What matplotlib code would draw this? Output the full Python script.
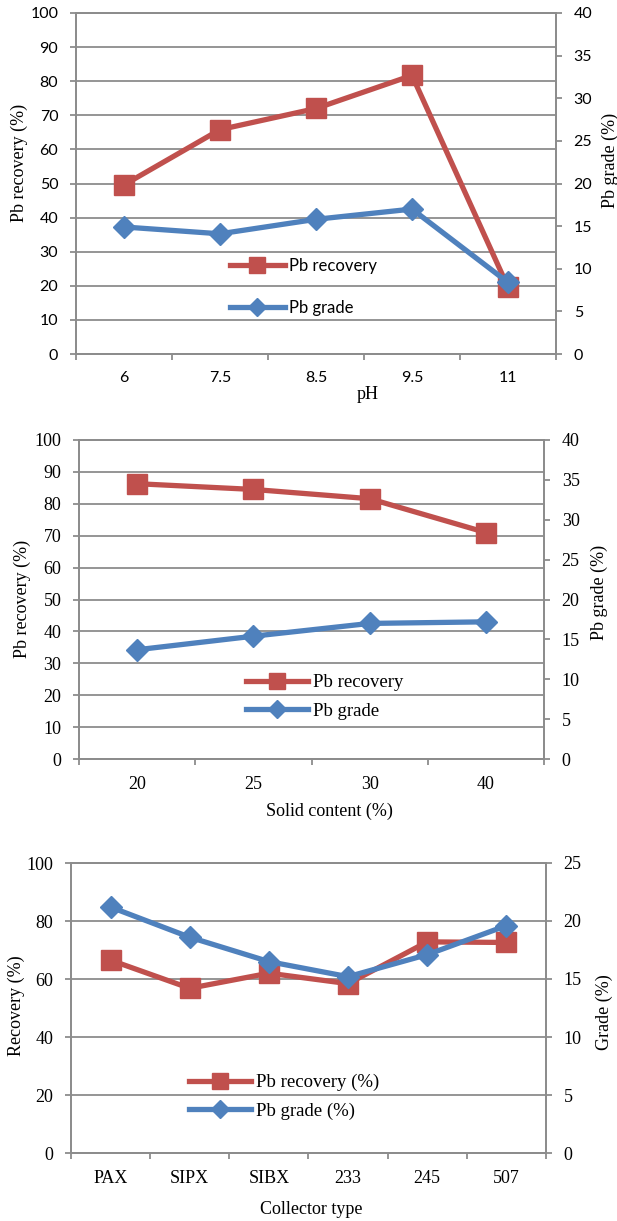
import numpy as np
import matplotlib
matplotlib.use("Agg")
import matplotlib.pyplot as plt

RED = "#C0504D"
BLUE = "#4F81BD"
GREY = "#8C8C8C"
SERIF = ["Liberation Serif", "DejaVu Serif"]
SANS = ["Lato", "DejaVu Sans"]

W, H = 617, 1221

# flotation results vs pH
ph_levels = ["6", "7.5", "8.5", "9.5", "11"]
ph_recovery = [49.6, 65.8, 72.0, 81.7, 19.6]
ph_grade = [14.9, 14.1, 15.8, 17.0, 8.4]

# flotation results vs solid content
solid_levels = ["20", "25", "30", "40"]
solid_recovery = [86.3, 84.5, 81.6, 71.0]
solid_grade = [13.7, 15.4, 17.0, 17.2]

# flotation results vs collector
collectors = ["PAX", "SIPX", "SIBX", "233", "245", "507"]
collector_recovery = [66.5, 56.8, 62.0, 58.4, 72.8, 72.6]
collector_grade = [21.2, 18.6, 16.5, 15.2, 17.1, 19.6]


def panel(fig, box, cats, rec, grade, rec_step, grade_max, grade_step,
          labels, names, tick_font, tick_size, lab_pos, leg_pos, leg_font,
          leg_size, leg_space):
    l, t, r, b = box
    ax = fig.add_axes([l / W, 1 - b / H, (r - l) / W, (b - t) / H])
    n = len(cats)
    x = np.arange(n)

    ax.plot(x, rec, color=RED, lw=3.8, marker="s", ms=14.5, zorder=3,
            label=names[0])
    ax.set_xlim(-0.5, n - 0.5)
    ax.set_ylim(0, 100)
    ax.set_yticks(np.arange(0, 101, rec_step))
    ax.grid(axis="y", color=GREY, lw=1.3)
    ax.set_axisbelow(True)

    ax2 = ax.twinx()
    ax2.plot(x, grade, color=BLUE, lw=3.8, marker="D", ms=11.5, zorder=3,
             label=names[1])
    ax2.set_ylim(0, grade_max)
    ax2.set_yticks(np.arange(0, grade_max + 0.1, grade_step))

    ax.set_xticks(x)
    ax.set_xticklabels(cats)
    ax.set_xticks(np.arange(n + 1) - 0.5, minor=True)
    ax.tick_params(axis="x", which="major", length=0, pad=12)
    ax.tick_params(axis="x", which="minor", length=4, width=1.3, color=GREY,
                   direction="out")
    for a in (ax, ax2):
        a.tick_params(axis="y", length=4.2, width=1.3, color=GREY, pad=8.5,
                      direction="out")
        for s in a.spines.values():
            s.set_color(GREY)
            s.set_linewidth(1.3)
    for lab in ax.get_xticklabels() + ax.get_yticklabels() + ax2.get_yticklabels():
        lab.set_family(tick_font)
        lab.set_fontsize(tick_size)

    def frac(px, py):
        return (px - l) / (r - l), (b - py) / (b - t)

    ax.set_ylabel(labels[0], family=SERIF, fontsize=13, va="center", ha="center")
    ax.yaxis.set_label_coords(*frac(*lab_pos[0]))
    ax2.set_ylabel(labels[1], family=SERIF, fontsize=13, va="center", ha="center")
    ax2.yaxis.set_label_coords(*frac(*lab_pos[1]))
    ax.set_xlabel(labels[2], family=SERIF, fontsize=13, va="center")
    ax.xaxis.set_label_coords(*frac(*lab_pos[2]))

    h1, n1 = ax.get_legend_handles_labels()
    h2, n2 = ax2.get_legend_handles_labels()
    ax2.legend(h1 + h2, n1 + n2, loc="center left",
               bbox_to_anchor=frac(*leg_pos), frameon=False,
               borderpad=0, borderaxespad=0, handlelength=3.3,
               handletextpad=0.25, labelspacing=leg_space,
               markerscale=0.8,
               prop={"family": leg_font, "size": leg_size})
    return ax, ax2


fig = plt.figure(figsize=(W / 100, H / 100), dpi=100)

panel(fig, (76, 13, 556, 354), ph_levels, ph_recovery, ph_grade, 10, 40, 5,
      ("Pb recovery (%)", "Pb grade (%)", "pH"), ("Pb recovery", "Pb grade"),
      SANS, 11.5, ((19, 163), (610, 160), (368, 394)), (230, 287), SANS, 12, 1.55)

panel(fig, (79, 440, 544, 759), solid_levels, solid_recovery, solid_grade, 10, 40, 5,
      ("Pb recovery (%)", "Pb grade (%)", "Solid content (%)"),
      ("Pb recovery", "Pb grade"),
      SERIF, 13, ((22, 599), (599, 592), (329, 811)), (246, 697), SERIF, 13.5, 0.6)

panel(fig, (71, 863, 546, 1153), collectors, collector_recovery, collector_grade, 20, 25, 5,
      ("Recovery (%)", "Grade (%)", "Collector type"),
      ("Pb recovery (%)", "Pb grade (%)"),
      SERIF, 13, ((16, 1006), (604, 1012), (311, 1210)), (189, 1097), SERIF, 13.5, 0.6)

fig.savefig("out.png", dpi=100)
